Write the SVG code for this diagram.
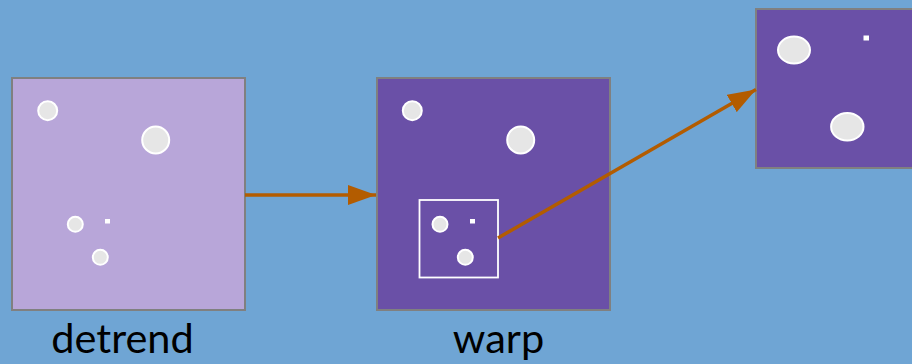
<svg xmlns="http://www.w3.org/2000/svg" width="912" height="364" viewBox="0 0 912 364">
<style>
.bg{fill:#6fa5d4}
.frame{stroke:#808080;stroke-width:2}
.light{fill:#b8a6d9}
.dark{fill:#6a50a7}
.dot{fill:#e6e6e6;stroke:#ffffff;stroke-width:2}
.sq{fill:#ffffff}
.edge{stroke:#b35c00;stroke-width:3.5;fill:none}
.lbl{font-family:Lato,"Liberation Sans",sans-serif;font-size:41.5px;fill:#000;text-anchor:middle}
</style>
<defs>
<marker id="ah" markerUnits="userSpaceOnUse" markerWidth="28" markerHeight="20" refX="28" refY="10" orient="auto">
<path d="M0,0 L28,10 L0,20 Z" fill="#b35c00"/>
</marker>
</defs>
<rect class="bg" x="0" y="0" width="912" height="364"/>
<g id="detrend">
<rect class="light frame" x="12" y="78" width="233" height="232"/>
<circle class="dot" cx="47.7" cy="110.7" r="9.5"/>
<circle class="dot" cx="155.7" cy="140" r="13.5"/>
<circle class="dot" cx="75.3" cy="224.3" r="7.5"/>
<rect class="sq" x="105" y="219" width="5" height="4.5"/>
<circle class="dot" cx="100.3" cy="257.3" r="7.5"/>
<text class="lbl" x="122.5" y="353">detrend</text>
</g>
<g id="warp">
<rect class="dark frame" x="377" y="78" width="233" height="232"/>
<circle class="dot" cx="412.3" cy="110.7" r="9.5"/>
<circle class="dot" cx="520.7" cy="140" r="13.5"/>
<rect x="419.5" y="200" width="78.5" height="77.5" fill="none" stroke="#ffffff" stroke-width="1.8"/>
<circle class="dot" cx="440" cy="224.3" r="7.5"/>
<rect class="sq" x="470" y="219" width="5" height="4.5"/>
<circle class="dot" cx="465.3" cy="257.3" r="7.5"/>
<text class="lbl" x="498.5" y="353">warp</text>
</g>
<g id="zoomed">
<rect class="dark frame" x="756" y="9" width="170" height="159"/>
<ellipse class="dot" cx="794" cy="50" rx="16" ry="13.5"/>
<rect class="sq" x="863.5" y="35.5" width="5.5" height="5"/>
<ellipse class="dot" cx="847.3" cy="126.7" rx="16.2" ry="13.8"/>
</g>
<g id="connectors">
<line class="edge" x1="245" y1="195" x2="376" y2="195" marker-end="url(#ah)"/>
<line class="edge" x1="498" y1="238" x2="756" y2="89.5" marker-end="url(#ah)"/>
</g>
</svg>
